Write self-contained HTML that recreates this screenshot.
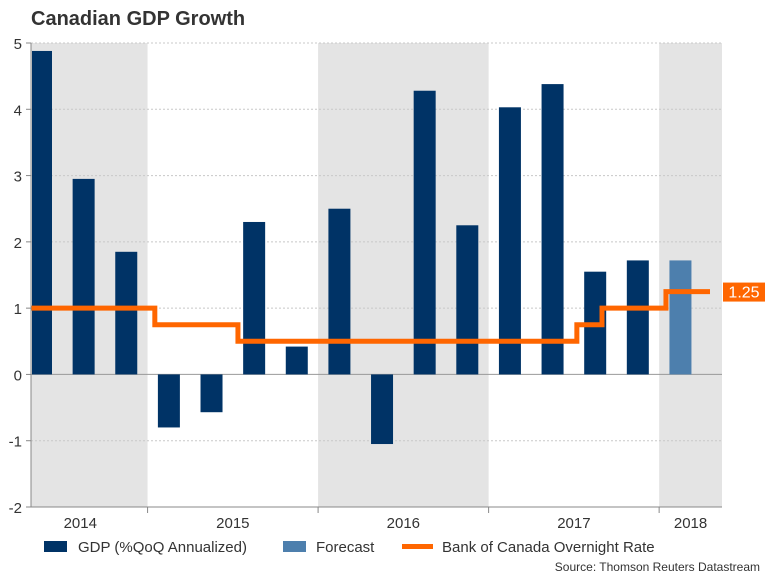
<!DOCTYPE html>
<html><head><meta charset="utf-8"><style>
body{margin:0;background:#fff;font-family:"Liberation Sans",Arial,sans-serif;}
svg text{font-family:"Liberation Sans",Arial,sans-serif;}
</style></head><body>
<svg id="chart" width="768" height="576" viewBox="0 0 768 576">
<text x="31" y="25" font-size="20" font-weight="bold" fill="#333">Canadian GDP Growth</text>
<g id="bands"></g><g id="grid"></g><g id="bars"></g><g id="line"></g><g id="axes"></g>
<g>
<rect x="44" y="541" width="23" height="11" fill="#003366"/>
<text x="78" y="552" font-size="15" fill="#333">GDP (%QoQ Annualized)</text>
<rect x="283" y="541" width="23" height="11" fill="#4d7fad"/>
<text x="316" y="552" font-size="15" fill="#333">Forecast</text>
<line x1="402" y1="546.5" x2="433" y2="546.5" stroke="#ff6600" stroke-width="5"/>
<text x="442" y="552" font-size="15" fill="#333">Bank of Canada Overnight Rate</text>
</g>
<text x="760" y="571" font-size="12" fill="#333" text-anchor="end">Source: Thomson Reuters Datastream</text>
</svg>
<script>
const gdpValues=[4.88,2.95,1.85,-0.8,-0.57,2.3,0.42,2.5,-1.05,4.28,2.25,4.03,4.38,1.55,1.72,1.72];
const isForecast=[0,0,0,0,0,0,0,0,0,0,0,0,0,0,0,1];
const rateValues=[1.0,0.75,0.5,0.75,1.0,1.25];
const rateChangeQuarter=[2.67,4.62,12.57,13.16,14.66];
const yearLabels=["2014","2015","2016","2017","2018"];
const yTicks=[-2,-1,0,1,2,3,4,5];
const NS="http://www.w3.org/2000/svg";
const L=31,R=722,T=43,B=507;
const y=v=>T+(5-v)*(B-T)/7;
const step=42.63, x0=41;
const xq=i=>x0+i*step; // quarter center; index 0 = 2014Q2
function el(t,a,p){const e=document.createElementNS(NS,t);for(const k in a)e.setAttribute(k,a[k]);document.getElementById(p).appendChild(e);return e;}
const yearStart=[-0.75,2.5,6.5,10.5,14.5];
const yearEnd=[2.5,6.5,10.5,14.5,15.75];
yearLabels.forEach((lab,i)=>{
 const xs=i==0?L:xq(yearStart[i]), xe=i==4?R:xq(yearEnd[i]);
 if(i%2==0){const r=el('rect',{x:xs,y:T,width:xe-xs,height:B-T,fill:'#e4e4e4'},'bands');
 
 }
 const lx=i==0?(xs+xe)/2-9:(xs+xe)/2;
 const t=el('text',{x:lx,y:528,'font-size':15,fill:'#333','text-anchor':'middle'},'axes');t.textContent=lab;
 
 
 if(i>0){const tk=el('line',{x1:xs,x2:xs,y1:B,y2:B+6,stroke:'#888'},'axes');
 
 }
});
yTicks.forEach(v=>{
 if(v!==-2){const g=el('line',{x1:L,x2:R,y1:y(v),y2:y(v),stroke:v===0?'#999':'#c8c8c8','stroke-dasharray':v===0?'none':'2,2'},'grid');
 
 }
 const tk=el('line',{x1:L-5,x2:L,y1:y(v),y2:y(v),stroke:'#888'},'axes');
 
 
 const t=el('text',{x:L-9,y:y(v)+6,'font-size':15,fill:'#333','text-anchor':'end'},'axes');t.textContent=v;
 
 
});
const ax=el('path',{d:`M${L},${T}V${B}H${R}`,fill:'none',stroke:'#888'},'axes');


gdpValues.forEach((v,i)=>{
 const xs=Math.max(L+1,xq(i)-11), xe=xq(i)+11;
 const b=el('rect',{x:xs,y:Math.min(y(v),y(0)),width:xe-xs,height:Math.abs(y(v)-y(0)),fill:isForecast[i]?'#4d7fad':'#003366'},'bars');
 
 
});
let d=`M${L},${y(rateValues[0])}`;
for(let i=1;i<rateValues.length;i++){
 d+=`H${xq(rateChangeQuarter[i-1])}V${y(rateValues[i])}`;
}
d+=`H710`;
const p=el('path',{d:d,fill:'none',stroke:'#ff6600','stroke-width':5},'line');


const last=rateValues[rateValues.length-1];
const lb=el('rect',{x:723,y:y(last)-9,width:42,height:19,fill:'#ff6600'},'line');


const lt=el('text',{x:744,y:y(last)+6,'font-size':16,fill:'#fff','text-anchor':'middle'},'line');lt.textContent=last.toFixed(2);


</script>
</body></html>
